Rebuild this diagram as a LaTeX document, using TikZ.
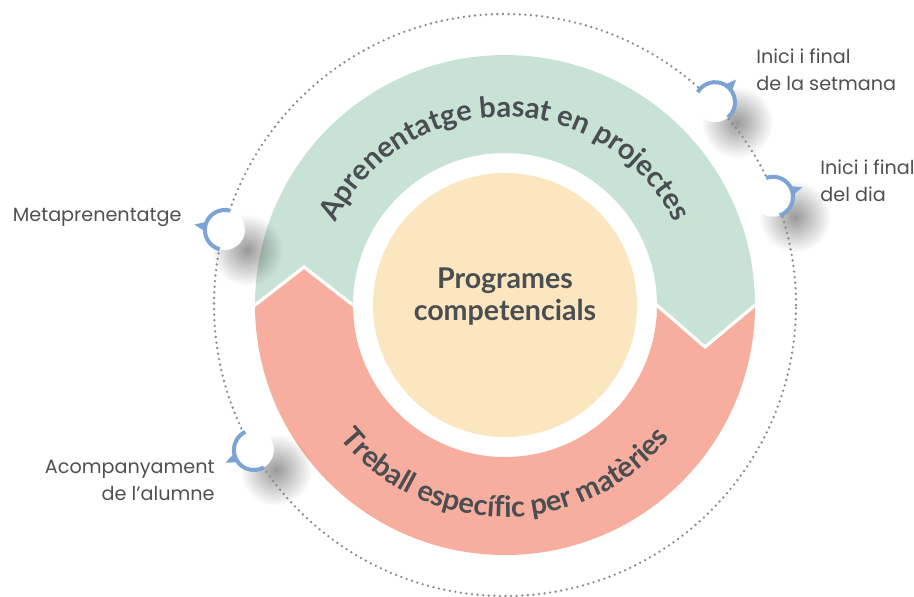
\documentclass[tikz,border=0pt]{standalone}
\usepackage{fontspec}
\usepackage{tikz}
\usetikzlibrary{decorations.text, fadings}
\newfontfamily\labelfont{Poppins}
\newfontfamily\titlefont{Lato}
\definecolor{bandgreen}{HTML}{C9E2D6}
\definecolor{bandred}{HTML}{F7AE9F}
\definecolor{coreyellow}{HTML}{FCE6BF}
\definecolor{textdark}{HTML}{4A4D51}
\definecolor{labelgray}{HTML}{505050}
\definecolor{ringblue}{HTML}{7BA4D4}
\definecolor{dotgray}{HTML}{8A8A8A}
\newcommand{\bandfont}{\titlefont\bfseries\fontsize{14.5}{14.5}\selectfont}
\tikzfading[name=softspot, inner color=transparent!0, outer color=transparent!100]

\begin{document}
\begin{tikzpicture}[x=0.5pt, y=0.5pt,
    gap/.style={white, line width=1.6pt},
    orbit/.style={dotgray, line width=1.3pt, line cap=round, dash pattern=on 0pt off 2.8pt},
    core/.style={circle, fill=coreyellow, minimum size=132pt, inner sep=0pt},
    coretext/.style={align=center, text=textdark, font=\titlefont\bfseries\fontsize{14.3}{16}\selectfont},
    marker/.style={circle, fill=white, minimum size=20pt, inner sep=0pt, outer sep=0pt},
    markshadow/.style={black, opacity=0.4, path fading=softspot},
    ring/.style={ringblue, line width=2pt},
    ringtip/.style={fill=ringblue},
    lbl/.style={text=labelgray, font=\labelfont\fontsize{9.6}{13.5}\selectfont, inner sep=0pt}]
    \useasboundingbox (-505,-291) rectangle (409,305);
    % the two bands
    \fill[bandgreen] (180:250) arc[start angle=180, end angle=0, radius=250] -- (200,-42) -- (0:152)
        arc[start angle=0, end angle=180, radius=152] -- (-201,38) -- cycle;
    \fill[bandred] (180:250) -- (-201,38) -- (180:152) arc[start angle=180, end angle=360, radius=152]
        -- (200,-42) -- (0:250) arc[start angle=0, end angle=-180, radius=250] -- cycle;
    \draw[gap] (-255,-4) -- (-201,38) -- (-147,-4);
    \draw[gap] (147,4) -- (200,-42) -- (255,4);
    \node[core] (core) at (0,0) {};
    \node[coretext] (ctext) at (0,8) {Programes\\competencials};
    % marker places
    \coordinate (p1) at (165:290);
    \coordinate (p2) at (210:290);
    \coordinate (p3) at (44:292);
    \coordinate (p4) at (22:289);
    \fill[markshadow] ([shift={(22,-20)}]p1) circle[radius=36];
    \fill[markshadow] ([shift={(22,-20)}]p2) circle[radius=36];
    \fill[markshadow] ([shift={(22,-20)}]p3) circle[radius=36];
    \fill[markshadow] ([shift={(22,-20)}]p4) circle[radius=36];
    \draw[orbit] (0,0) circle[radius=291];
    \node[marker] (m1) at (p1) {};
    \node[marker] (m2) at (p2) {};
    \node[marker] (m3) at (p3) {};
    \node[marker] (m4) at (p4) {};
    \draw[ring] (m1.255) arc[start angle=255, end angle=75, radius=20];
    \draw[ring] (m2.300) arc[start angle=300, end angle=115, radius=20];
    \draw[ring] (m3.150) arc[start angle=150, end angle=-50, radius=20];
    \draw[ring] (m4.110) arc[start angle=110, end angle=-70, radius=20];
    \fill[ringtip] ([shift={(184:20)}]m1.center) -- ([shift={(170:31)}]m1.center) -- ([shift={(156:20)}]m1.center) -- cycle;
    \fill[ringtip] ([shift={(218:20)}]m2.center) -- ([shift={(204:31)}]m2.center) -- ([shift={(190:20)}]m2.center) -- cycle;
    \fill[ringtip] ([shift={(61:20)}]m3.center) -- ([shift={(47:31)}]m3.center) -- ([shift={(33:20)}]m3.center) -- cycle;
    \fill[ringtip] ([shift={(32:20)}]m4.center) -- ([shift={(18:31)}]m4.center) -- ([shift={(4:20)}]m4.center) -- cycle;
    % curved band titles
    \path[decorate, decoration={text along path, text align=center, text color=textdark,
        text={|\bandfont|Aprenentatge basat en projectes}}]
        (156:188) arc[start angle=156, end angle=24, radius=188];
    \path[decorate, decoration={text along path, text align=center, text color=textdark,
        text={|\bandfont|Treball específic per matèries}}]
        (212:212) arc[start angle=212, end angle=328, radius=212];
    % labels
    \node[lbl, anchor=east] (lmeta) at (-323,88) {Metaprenentatge};
    \node[lbl, anchor=east, align=right] (lacomp) at (-290,-175) {Acompanyament\\de l’alumne};
    \node[lbl, anchor=west, align=left] (lsetmana) at (251,235) {Inici i final\\de la setmana};
    \node[lbl, anchor=west, align=left] (ldia) at (315,124) {Inici i final\\del dia};
\end{tikzpicture}
\end{document}
